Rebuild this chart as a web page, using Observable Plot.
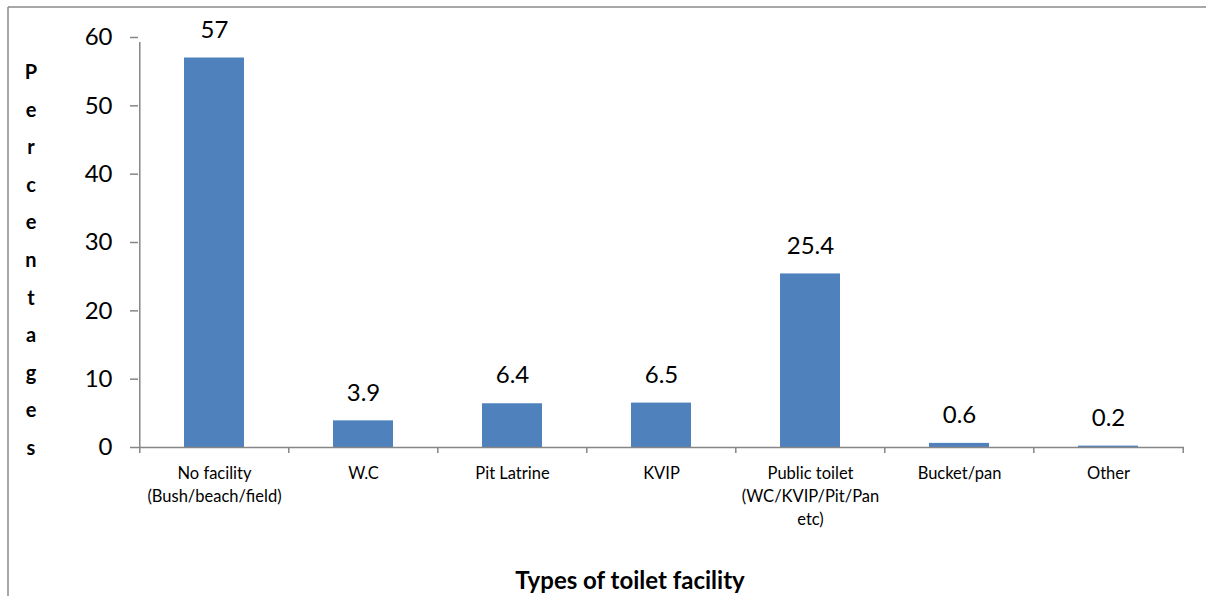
<!DOCTYPE html>
<html>
<head>
<meta charset="utf-8">
<script src="https://cdn.jsdelivr.net/npm/d3@7"></script>
<script src="https://cdn.jsdelivr.net/npm/@observablehq/plot@0.6"></script>
<style>
  html, body { margin: 0; padding: 0; background: #fff; }
  #chart { width: 1206px; height: 596px; }
</style>
</head>
<body>
<div id="chart"></div>
<script>
const categories = [
  "No facility (Bush/beach/field)",
  "W.C",
  "Pit Latrine",
  "KVIP",
  "Public toilet (WC/KVIP/Pit/Pan etc)",
  "Bucket/pan",
  "Other"
];
const tickLabels = [
  "No facility\n(Bush/beach/field)",
  "W.C",
  "Pit Latrine",
  "KVIP",
  "Public toilet\n(WC/KVIP/Pit/Pan\netc)",
  "Bucket/pan",
  "Other"
];
const values = [57, 3.9, 6.4, 6.5, 25.4, 0.6, 0.2];
const yTicks = [0, 10, 20, 30, 40, 50, 60];
const yTitle = "Percentages";
const xTitle = "Types of toilet facility";

const data = categories.map((c, i) => ({category: c, value: values[i]}));
const labelOf = new Map(categories.map((c, i) => [c, tickLabels[i]]));

const W = 1206, H = 596;
const mL = 138, mR = 22, mT = 37, mB = 149;
const step = (W - mL - mR) / categories.length;
const axisColor = "#868686";
const font = "Lato, 'Open Sans', sans-serif";

const chart = Plot.plot({
  width: W,
  height: H,
  marginLeft: mL,
  marginRight: mR,
  marginTop: mT,
  marginBottom: mB,
  style: {fontFamily: font, color: "#000", background: "#fff"},
  x: {domain: categories, paddingInner: 0.6, paddingOuter: 0.3},
  y: {domain: [0, 60]},
  marks: [
    Plot.barY(data, {x: "category", y: "value", fill: "#4F81BD"}),
    Plot.ruleY([0], {stroke: axisColor, strokeWidth: 1.5}),
    // y axis line
    Plot.ruleX([categories[0]], {y1: 0, y2: 60, dx: -step / 2, stroke: axisColor, strokeWidth: 1.5, insetBottom: -5}),
    // category boundary ticks
    Plot.ruleX(categories, {y1: 0, y2: 0, dx: -step / 2, stroke: axisColor, strokeWidth: 1.5, insetBottom: -6}),
    Plot.ruleX([categories[categories.length - 1]], {y1: 0, y2: 0, dx: step / 2, stroke: axisColor, strokeWidth: 1.5, insetBottom: -6}),
    Plot.axisY({ticks: yTicks, tickSize: 8, tickPadding: 18, fontSize: 24, stroke: axisColor, strokeWidth: 1.5, label: null, tickFormat: d => String(d), fill: "#000"}),
    Plot.axisX({tickSize: 0, tickPadding: 15, fontSize: 16.5, lineHeight: 1.4, label: null, tickFormat: d => labelOf.get(d), fill: "#000"}),
    Plot.text(data, {x: "category", y: "value", text: d => String(d.value), dy: -28, fontSize: 24, fill: "#000"})
  ]
});

const svg = d3.select(chart);
// border (top and left edges of the chart box)
svg.append("line").attr("x1", 8).attr("x2", W).attr("y1", 7).attr("y2", 7)
  .attr("stroke", "#8a8a8a").attr("stroke-width", 1.5);
svg.append("line").attr("x1", 8).attr("x2", 8).attr("y1", 7).attr("y2", H)
  .attr("stroke", "#8a8a8a").attr("stroke-width", 1.5);
// stacked y title
const letters = yTitle.split("");
const yt = svg.append("text").attr("font-family", font).attr("font-weight", "bold")
  .attr("font-size", 20).attr("text-anchor", "middle").attr("fill", "#000");
letters.forEach((ch, i) => {
  yt.append("tspan").attr("x", 31).attr("y", 72 + i * 37.6).attr("dy", "0.35em").text(ch);
});
// x title
svg.append("text").attr("x", 630).attr("y", 589).attr("text-anchor", "middle")
  .attr("font-family", font).attr("font-weight", "bold").attr("font-size", 24)
  .attr("fill", "#000").text(xTitle);

document.getElementById("chart").appendChild(chart);
</script>
</body>
</html>
